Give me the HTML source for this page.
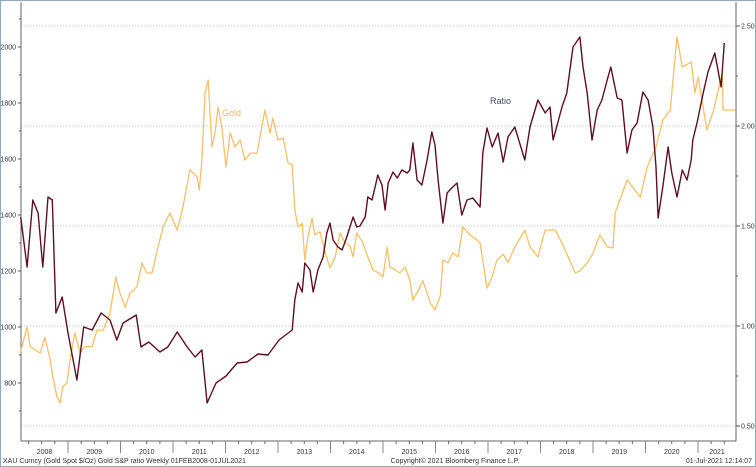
<!DOCTYPE html>
<html><head><meta charset="utf-8"><style>
html,body{margin:0;padding:0;background:#fff;}
svg{display:block;font-family:"Liberation Sans",sans-serif;}
</style></head><body>
<svg id="chart" width="756" height="467">
<rect x="0.5" y="0.5" width="755" height="466" fill="#fff" stroke="#8fa9c4"/>
<g id="grid"></g>
<g id="axes"></g>
<g id="series"></g>
<text x="222" y="116" font-size="9" fill="#f2b660">Gold</text>
<text x="490" y="104" font-size="9" fill="#4a4a6a">Ratio</text>
<text x="3" y="463" font-size="7" fill="#333">XAU Curncy (Gold Spot  $/Oz) Gold S&amp;P ratio  Weekly 01FEB2008-01JUL2021</text>
<text x="455" y="463" font-size="7" fill="#333" text-anchor="middle">Copyright© 2021 Bloomberg Finance L.P.</text>
<text x="752" y="463" font-size="7" fill="#333" text-anchor="end">01-Jul-2021 12:14:07</text>
</svg>
<script>
const leftTicks=[800,1000,1200,1400,1600,1800,2000];
const rightTicks=[0.5,1.0,1.5,2.0,2.5];
const yearLabels=[2008,2009,2010,2011,2012,2013,2014,2015,2016,2017,2018,2019,2020,2021];
const goldYears=[2008.09,2008.22,2008.28,2008.47,2008.56,2008.66,2008.71,2008.79,2008.85,2008.9,2008.98,2009.04,2009.13,2009.23,2009.32,2009.46,2009.55,2009.67,2009.8,2009.91,2009.99,2010.09,2010.18,2010.31,2010.41,2010.5,2010.6,2010.7,2010.81,2010.94,2011.08,2011.19,2011.32,2011.46,2011.5,2011.55,2011.61,2011.67,2011.74,2011.8,2011.86,2011.93,2012.01,2012.09,2012.18,2012.28,2012.37,2012.47,2012.6,2012.75,2012.85,2012.9,2013.0,2013.1,2013.19,2013.27,2013.32,2013.38,2013.46,2013.51,2013.57,2013.65,2013.7,2013.8,2013.9,2013.99,2014.09,2014.18,2014.28,2014.37,2014.43,2014.5,2014.62,2014.71,2014.81,2014.9,2015.0,2015.08,2015.13,2015.23,2015.32,2015.42,2015.51,2015.57,2015.67,2015.76,2015.9,2015.99,2016.09,2016.14,2016.24,2016.33,2016.43,2016.52,2016.66,2016.79,2016.85,2016.98,2017.08,2017.17,2017.29,2017.38,2017.51,2017.7,2017.8,2017.95,2018.09,2018.28,2018.41,2018.66,2018.75,2018.89,2019.0,2019.13,2019.27,2019.38,2019.42,2019.65,2019.9,2020.03,2020.2,2020.33,2020.47,2020.6,2020.7,2020.87,2020.94,2021.0,2021.17,2021.3,2021.46,2021.48,2021.72];
const goldValues=[907,1000,929,907,964,882,821,750,729,786,800,882,979,907,930,930,989,989,1050,1179,1121,1071,1121,1143,1229,1193,1193,1275,1357,1407,1346,1429,1561,1536,1489,1596,1836,1882,1643,1693,1786,1714,1571,1693,1643,1668,1596,1621,1621,1775,1693,1746,1668,1675,1586,1580,1418,1357,1370,1239,1321,1389,1330,1340,1264,1211,1250,1336,1300,1290,1250,1336,1300,1250,1204,1195,1179,1286,1214,1205,1193,1214,1168,1096,1130,1165,1086,1061,1110,1239,1230,1265,1250,1357,1329,1310,1300,1139,1180,1239,1260,1230,1286,1346,1286,1250,1346,1346,1300,1193,1200,1229,1264,1329,1286,1282,1407,1525,1464,1571,1643,1739,1775,2036,1929,1946,1836,1893,1704,1775,1907,1775,1775];
const ratioYears=[2008.1,2008.22,2008.33,2008.43,2008.52,2008.62,2008.7,2008.77,2008.89,2009.0,2009.17,2009.3,2009.46,2009.63,2009.8,2009.93,2010.05,2010.3,2010.39,2010.54,2010.75,2010.9,2011.08,2011.27,2011.42,2011.55,2011.65,2011.82,2012.01,2012.22,2012.41,2012.62,2012.81,2013.02,2013.27,2013.32,2013.38,2013.46,2013.51,2013.61,2013.67,2013.76,2013.86,2013.93,2013.99,2014.05,2014.14,2014.22,2014.31,2014.43,2014.5,2014.56,2014.66,2014.71,2014.79,2014.85,2014.9,2014.98,2015.04,2015.1,2015.19,2015.27,2015.36,2015.46,2015.51,2015.57,2015.65,2015.74,2015.84,2015.93,2015.99,2016.05,2016.14,2016.22,2016.31,2016.41,2016.5,2016.6,2016.71,2016.85,2016.9,2016.98,2017.08,2017.19,2017.29,2017.38,2017.51,2017.7,2017.8,2017.95,2018.09,2018.18,2018.24,2018.41,2018.5,2018.62,2018.75,2018.81,2018.89,2018.98,2019.08,2019.17,2019.27,2019.34,2019.46,2019.55,2019.65,2019.74,2019.84,2019.95,2020.05,2020.14,2020.2,2020.24,2020.33,2020.43,2020.5,2020.6,2020.7,2020.79,2020.87,2020.9,2020.98,2021.1,2021.19,2021.32,2021.44,2021.5];
const ratioValues=[1.545,1.295,1.63,1.565,1.295,1.645,1.63,1.065,1.145,0.965,0.73,0.995,0.98,1.065,1.03,0.93,1.015,1.055,0.895,0.92,0.87,0.895,0.97,0.895,0.845,0.88,0.615,0.715,0.75,0.815,0.82,0.86,0.855,0.93,0.98,1.13,1.215,1.17,1.315,1.28,1.17,1.28,1.345,1.465,1.515,1.43,1.395,1.38,1.445,1.545,1.495,1.5,1.545,1.645,1.63,1.695,1.755,1.705,1.58,1.715,1.77,1.74,1.78,1.765,1.78,1.915,1.73,1.705,1.83,1.97,1.905,1.73,1.515,1.665,1.69,1.715,1.555,1.63,1.64,1.595,1.865,1.99,1.895,1.965,1.82,1.945,1.995,1.83,1.995,2.13,2.065,2.095,1.93,2.095,2.165,2.395,2.445,2.295,2.165,1.93,2.08,2.13,2.23,2.295,2.14,2.13,1.865,1.98,2.015,2.17,2.13,1.995,1.795,1.54,1.695,1.895,1.765,1.645,1.78,1.73,1.83,1.93,2.015,2.165,2.27,2.365,2.195,2.415];

const NS="http://www.w3.org/2000/svg";
const PL=21,PR=736,PT=2,PB=441;
function xS(yr){return 68+(yr-2009)*52.5;}
function yL(v){return 47+(2000-v)*0.28;}
function yR(r){return 26+(2.5-r)*200;}
function mk(tag,attrs,parent){const e=document.createElementNS(NS,tag);for(const k in attrs)e.setAttribute(k,attrs[k]);parent.appendChild(e);return e;}
const grid=document.getElementById('grid'),axes=document.getElementById('axes'),series=document.getElementById('series');

rightTicks.forEach(r=>{
  const y=yR(r);
  const g=mk('line',{x1:PL,x2:PR,y1:y,y2:y,stroke:'#bbb','stroke-width':0.8,'stroke-dasharray':'1.5,1.5'},grid);
  
  
  mk('line',{x1:PR,x2:PR+4,y1:y,y2:y,stroke:'#555'},axes);
  const t=mk('text',{x:PR+5,y:y+2.5,'font-size':7,fill:'#333'},axes);
  t.textContent=r.toFixed(2);
  
  
});
for(let r=0.75;r<2.5;r+=0.5){const y=yR(r);mk('line',{x1:PR,x2:PR+2,y1:y,y2:y,stroke:'#555'},axes);}
leftTicks.forEach(v=>{
  const y=yL(v);
  mk('line',{x1:PL-3,x2:PL,y1:y,y2:y,stroke:'#555'},axes);
  const t=mk('text',{x:PL-5,y:y+2.5,'font-size':7,fill:'#333','text-anchor':'end'},axes);
  t.textContent=v;
  
  
});
for(let v=700;v<=2100;v+=200){const y=yL(v);if(y>PT&&y<PB)mk('line',{x1:PL-2,x2:PL,y1:y,y2:y,stroke:'#555'},axes);}
mk('line',{x1:PL,x2:PL,y1:PT,y2:PB,stroke:'#666'},axes);
mk('line',{x1:PR,x2:PR,y1:PT,y2:PB,stroke:'#666'},axes);
mk('line',{x1:PL,x2:PR,y1:PB,y2:PB,stroke:'#666'},axes);
yearLabels.forEach(yr=>{
  const x0=Math.max(PL,xS(yr)),x1=Math.min(PR,xS(yr+1));
  if(xS(yr)>PL)mk('line',{x1:xS(yr),x2:xS(yr),y1:PB,y2:PB+12,stroke:'#888'},axes);
  for(let q=0.25;q<1;q+=0.25){const x=xS(yr+q);if(x>PL&&x<PR)mk('line',{x1:x,x2:x,y1:PB,y2:PB+3,stroke:'#666'},axes);}
  const t=mk('text',{x:(x0+x1)/2,y:PB+13,'font-size':7,fill:'#333','text-anchor':'middle'},axes);
  t.textContent=yr;
  
  
});
const gp=goldYears.map((yr,i)=>xS(yr).toFixed(1)+','+yL(goldValues[i]).toFixed(1)).join(' ');
const gl=mk('polyline',{points:gp,fill:'none',stroke:'#f5c06a','stroke-width':1.3,'stroke-linejoin':'round'},series);


const rp=ratioYears.map((yr,i)=>xS(yr).toFixed(1)+','+yR(ratioValues[i]).toFixed(1)).join(' ');
const rl=mk('polyline',{points:rp,fill:'none',stroke:'#5c1020','stroke-width':1.4,'stroke-linejoin':'round'},series);


</script>
</body></html>
